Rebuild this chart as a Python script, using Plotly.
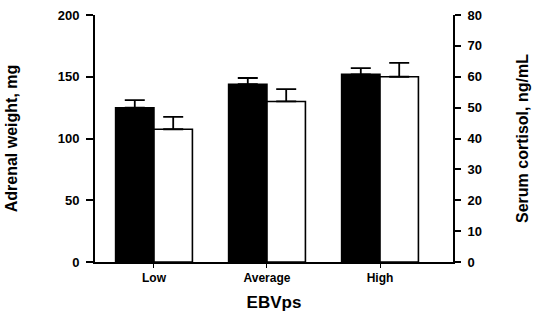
import plotly.graph_objects as go

# EBVps groups
categories = ["Low", "Average", "High"]

# Adrenal weight (mg), left axis
adrenal_mean = [125, 144, 152]
adrenal_err = [6, 5, 5]

# Serum cortisol (ng/mL), right axis
cortisol_mean = [43, 52, 60]
cortisol_err = [4, 4, 4.5]

FONT = "Liberation Sans"
BAR_W = 0.34

fig = go.Figure()

fig.add_trace(go.Bar(
    x=categories, y=adrenal_mean, yaxis="y",
    width=BAR_W, offset=-BAR_W,
    marker=dict(color="black", line=dict(color="black", width=1.5)),
    error_y=dict(type="data", symmetric=False, array=adrenal_err,
                 arrayminus=[0, 0, 0], color="black", thickness=1.8, width=10),
    name="Adrenal weight",
))

fig.add_trace(go.Bar(
    x=categories, y=cortisol_mean, yaxis="y2",
    width=BAR_W, offset=0,
    marker=dict(color="white", line=dict(color="black", width=1.6)),
    error_y=dict(type="data", symmetric=False, array=cortisol_err,
                 arrayminus=[0, 0, 0], color="black", thickness=1.8, width=10),
    name="Serum cortisol",
))

fig.update_layout(
    width=539, height=321,
    margin=dict(l=95, r=86, t=15, b=59),
    paper_bgcolor="white", plot_bgcolor="white",
    showlegend=False,
    font=dict(family=FONT, color="black"),
    xaxis=dict(
        range=[-0.522, 2.646], automargin=False,
        showline=True, linecolor="black", linewidth=2,
        ticks="outside", ticklen=4, tickwidth=1.2, tickcolor="black",
        tickfont=dict(size=12, family=FONT, weight="bold"),
        showgrid=False, zeroline=False,
        title=dict(text="EBVps", font=dict(size=17, family=FONT, weight="bold"),
                   standoff=12),
    ),
    yaxis=dict(
        range=[0, 200], tickvals=[0, 50, 100, 150, 200], automargin=False,
        showline=True, linecolor="black", linewidth=2,
        ticks="outside", ticklen=7, tickwidth=1.5, tickcolor="black",
        ticklabelstandoff=4,
        tickfont=dict(size=13, family=FONT, weight="bold"),
        showgrid=False, zeroline=False,
        title=dict(text="Adrenal weight, mg",
                   font=dict(size=16, family=FONT, weight="bold"), standoff=36),
    ),
    yaxis2=dict(
        range=[0, 80], tickvals=list(range(0, 81, 10)), automargin=False,
        overlaying="y", side="right",
        showline=True, linecolor="black", linewidth=2,
        ticks="outside", ticklen=6, tickwidth=1.5, tickcolor="black",
        ticklabelstandoff=4,
        tickfont=dict(size=13, family=FONT, weight="bold"),
        showgrid=False, zeroline=False,
        title=dict(text="Serum cortisol, ng/mL",
                   font=dict(size=16, family=FONT, weight="bold"), standoff=36),
    ),
)

fig.write_html("out.html")
